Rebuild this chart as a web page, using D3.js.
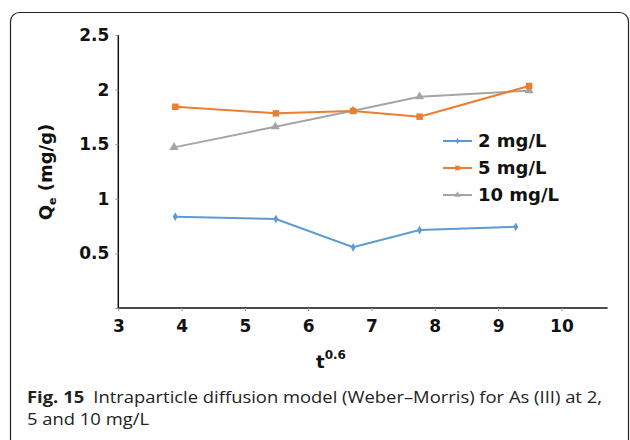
<!DOCTYPE html>
<html>
<head>
<meta charset="utf-8">
<script src="https://cdn.jsdelivr.net/npm/d3@7"></script>
<style>
  body { margin: 0; background: #fff; }
  .tick-label { font-family: "DejaVu Sans", sans-serif; font-weight: bold; font-size: 17px; fill: #111; }
  .legend text { font-family: "DejaVu Sans", sans-serif; font-weight: bold; font-size: 18px; fill: #111; }
  .caption { font-family: "Open Sans", sans-serif; font-size: 16.5px; fill: #222; }
</style>
</head>
<body>
<svg width="630" height="440"></svg>
<script>
const xTicks = [3, 4, 5, 6, 7, 8, 9, 10];
const yTicks = [0.5, 1, 1.5, 2, 2.5];

const series = ['2 mg/L', '5 mg/L', '10 mg/L'];
const xs2 = [3.9, 5.49, 6.71, 7.76, 9.28];
const ys2 = [0.836, 0.815, 0.556, 0.714, 0.744];
const xs5 = [3.9, 5.49, 6.71, 7.76, 9.49];
const ys5 = [1.843, 1.783, 1.804, 1.752, 2.033];
const xs10 = [3.88, 5.48, 6.71, 7.76, 9.49];
const ys10 = [1.471, 1.66, 1.807, 1.935, 1.99];

const colors = ['#5b9bd5', '#ed7d31', '#a5a5a5'];
const symbols = [d3.symbolDiamond, d3.symbolSquare, d3.symbolTriangle];
const symbolSizes = [22, 42, 36];

const svg = d3.select('svg');

// figure frame
svg.append('rect')
    .attr('x', 10.5).attr('y', 12.5)
    .attr('width', 618).attr('height', 460)
    .attr('rx', 9)
    .attr('fill', 'none')
    .attr('stroke', '#222')
    .attr('stroke-width', 1.2);

const x = d3.scaleLinear().domain([3, 10.73]).range([118.3, 607.6]);
const y = d3.scaleLinear().domain([0, 2.5]).range([308, 35]);

// axes
const yAxis = g => g.attr('transform', `translate(${x(3)},0)`)
    .call(d3.axisLeft(y).tickValues([0].concat(yTicks)).tickSize(3).tickFormat(v => v === 0 ? '' : v))
    .call(g => g.select('.domain').attr('d', `M0,${y(0)}V${y(2.5)}`).attr('stroke', '#111').attr('stroke-width', 1.5))
    .call(g => g.selectAll('.tick line').attr('stroke', '#999'))
    .call(g => g.selectAll('.tick text').attr('class', 'tick-label').attr('x', -9));

const xAxis = g => g.attr('transform', `translate(0,${y(0)})`)
    .call(d3.axisBottom(x).tickValues(xTicks).tickSize(3))
    .call(g => g.select('.domain').attr('d', `M${x(3)},0H${x.range()[1]}`).attr('stroke', '#111').attr('stroke-width', 1.5))
    .call(g => g.selectAll('.tick line').attr('stroke', '#999'))
    .call(g => g.selectAll('.tick text').attr('class', 'tick-label').attr('dy', '1.05em'));

svg.append('g').call(yAxis).attr('font-family', null).attr('font-size', null);
svg.append('g').call(xAxis).attr('font-family', null).attr('font-size', null);

// axis titles
const yTitle = svg.append('text')
    .attr('transform', 'translate(52,172) rotate(-90)')
    .attr('text-anchor', 'middle')
    .attr('font-family', 'DejaVu Sans, sans-serif')
    .attr('font-weight', 'bold')
    .attr('font-size', 18)
    .attr('fill', '#111');
yTitle.append('tspan').text('Q');
yTitle.append('tspan').attr('font-size', 11).attr('dy', 4).text('e');
yTitle.append('tspan').attr('dy', -4).text(' (mg/g)');

const xTitle = svg.append('text')
    .attr('x', 331).attr('y', 368)
    .attr('text-anchor', 'middle')
    .attr('font-family', 'DejaVu Sans, sans-serif')
    .attr('font-weight', 'bold')
    .attr('font-size', 18)
    .attr('fill', '#111');
xTitle.append('tspan').text('t');
xTitle.append('tspan').attr('font-size', 12).attr('dy', -9).text('0.6');

// series
const data = [
    xs2.map((v, i) => [v, ys2[i]]),
    xs5.map((v, i) => [v, ys5[i]]),
    xs10.map((v, i) => [v, ys10[i]])
];
const line = d3.line().x(d => x(d[0])).y(d => y(d[1]));

// draw order: 10, 5, 2 so orange sits over gray like the original
[2, 1, 0].forEach(s => {
    svg.append('path')
        .datum(data[s])
        .attr('d', line)
        .attr('fill', 'none')
        .attr('stroke', colors[s])
        .attr('stroke-width', 2);
    svg.selectAll(null)
        .data(data[s])
        .enter()
        .append('path')
        .attr('transform', d => `translate(${x(d[0])},${y(d[1])})`)
        .attr('d', d3.symbol().type(symbols[s]).size(symbolSizes[s]))
        .attr('fill', colors[s]);
});

// legend
const legend = svg.append('g').attr('class', 'legend');
series.forEach((name, i) => {
    const row = legend.append('g').attr('transform', `translate(443,${141 + i * 27})`);
    row.append('line')
        .attr('x1', 0).attr('x2', 29)
        .attr('stroke', colors[i]).attr('stroke-width', 2);
    row.append('path')
        .attr('transform', 'translate(14.5,0)')
        .attr('d', d3.symbol().type(symbols[i]).size(symbolSizes[i] * 0.5))
        .attr('fill', colors[i]);
    row.append('text')
        .attr('x', 35).attr('dy', '0.36em')
        .text(name);
});

// caption
const cap1 = svg.append('text')
    .attr('class', 'caption')
    .attr('x', 27).attr('y', 403)
    .attr('textLength', 575)
    .attr('lengthAdjust', 'spacingAndGlyphs');
cap1.append('tspan').attr('font-weight', 'bold').text('Fig. 15');
cap1.append('tspan').text('\u2002Intraparticle diffusion model (Weber\u2013Morris) for As (III) at 2,');

svg.append('text')
    .attr('class', 'caption')
    .attr('x', 27).attr('y', 425)
    .attr('textLength', 122)
    .attr('lengthAdjust', 'spacingAndGlyphs')
    .text('5 and 10 mg/L');
</script>
</body>
</html>
